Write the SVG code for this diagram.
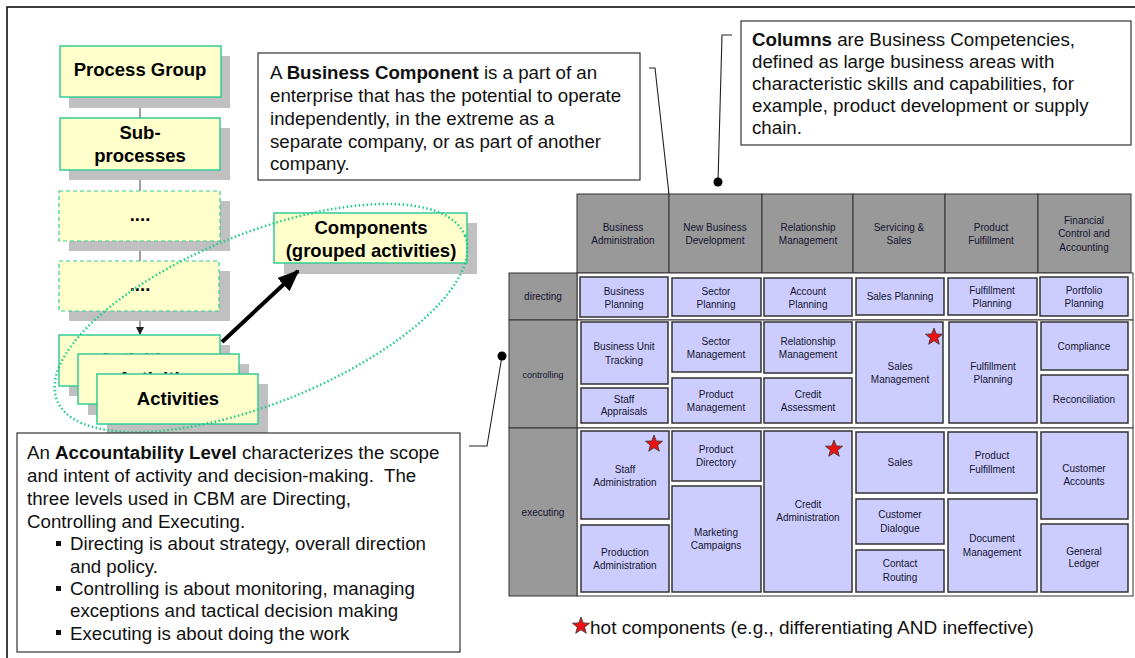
<svg xmlns="http://www.w3.org/2000/svg" xmlns:xlink="http://www.w3.org/1999/xlink" width="1135" height="658" viewBox="0 0 1135 658">
<style>
.sh{fill:#c0c0c0}
.yb{fill:#ffffcc;stroke:#33cc99;stroke-width:1.5}
.yd{fill:#ffffcc;stroke:#33cc99;stroke-width:1.2;stroke-dasharray:4 3}
.bt{font-family:"Liberation Sans",Arial,sans-serif;font-weight:bold;font-size:18.5px;fill:#000;text-anchor:middle}
.ct{font-family:"Liberation Sans",Arial,sans-serif;font-size:18.7px;fill:#111}
.co{fill:#fff;stroke:#333;stroke-width:1.2}
.cell{fill:#ccccff;stroke:#333;stroke-width:1.5}
.ctx{font-family:"Liberation Sans",Arial,sans-serif;font-size:10px;fill:#14142e;text-anchor:middle}
.hdr{fill:#999999;stroke:#333;stroke-width:1}
.band{fill:#fff;stroke:#333;stroke-width:1}
.ld{fill:none;stroke:#222;stroke-width:1.1}
.gl{stroke:#808080;stroke-width:1.5;fill:none}
.star{fill:#ee1111;stroke:#333;stroke-width:0.8}
</style>
<defs>
<polygon id="star" points="0,-9 2.23,-3.07 8.56,-2.78 3.61,1.17 5.29,7.28 0,3.8 -5.29,7.28 -3.61,1.17 -8.56,-2.78 -2.23,-3.07"/>
<marker id="ah" markerWidth="8" markerHeight="8" refX="7" refY="4" orient="auto" markerUnits="userSpaceOnUse">
<path d="M0,0 L8,4 L0,8 z" fill="#222"/>
</marker>
<marker id="ahb" markerWidth="22" markerHeight="18" refX="20" refY="9" orient="auto" markerUnits="userSpaceOnUse">
<path d="M0,0 L22,9 L0,18 z" fill="#000"/>
</marker>
</defs>

<path d="M7,658 V7 H1135" fill="none" stroke="#000" stroke-width="1.5"/>

<!-- left hierarchy -->
<g id="connectors-left">
<line class="gl" x1="140" y1="97" x2="140" y2="118"/>
<line class="gl" x1="140" y1="170" x2="140" y2="191"/>
<line class="gl" x1="140" y1="241" x2="140" y2="261"/>
<line class="gl" x1="140" y1="311" x2="140" y2="334" marker-end="url(#ah)"/>
</g>

<g id="process-group">
<rect class="sh" x="69" y="56" width="161" height="52"/>
<rect class="yb" x="60" y="46" width="161" height="51"/>
<text class="bt" x="140" y="76">Process Group</text>
</g>
<g id="sub-processes">
<rect class="sh" x="69" y="128" width="161" height="52"/>
<rect class="yb" x="60" y="118" width="160" height="52"/>
<text class="bt" x="140" y="139">Sub-</text>
<text class="bt" x="140" y="162">processes</text>
</g>
<g id="dots1">
<rect class="sh" x="69" y="201" width="161" height="50"/>
<rect class="yd" x="59" y="191" width="161" height="50"/>
<text class="bt" x="140" y="221">....</text>
</g>
<g id="dots2">
<rect class="sh" x="69" y="271" width="161" height="50"/>
<rect class="yd" x="59" y="261" width="160" height="50"/>
<text class="bt" x="140" y="291">....</text>
</g>
<g id="activities">
<rect class="sh" x="69" y="345" width="161" height="51"/>
<rect class="yb" x="59" y="335" width="161" height="51"/>
<text class="bt" x="140" y="366">Activities</text>
<rect class="sh" x="88" y="364" width="161" height="51"/>
<rect class="yb" x="78" y="354" width="161" height="50"/>
<text class="bt" x="159" y="385">Activities</text>
<rect class="sh" x="107" y="384" width="161" height="50"/>
<rect class="yb" x="97" y="374" width="161" height="50"/>
<text class="bt" x="178" y="405">Activities</text>
</g>
<g id="components">
<rect class="sh" x="284" y="223" width="193" height="51"/>
<rect class="yb" x="274" y="213" width="193" height="50"/>
<text class="bt" x="371" y="234">Components</text>
<text class="bt" x="371" y="257">(grouped activities)</text>
</g>
<g id="connectors">
<ellipse cx="261" cy="318" rx="220" ry="85" transform="rotate(-22 261 318)" fill="none" stroke="#22cc88" stroke-width="2.5" stroke-dasharray="1.5 2.5"/>
<line x1="222" y1="342" x2="298" y2="271" stroke="#000" stroke-width="4" marker-end="url(#ahb)"/>
<path class="ld" d="M649,68 H655 L690,384"/>
<circle cx="690" cy="384" r="4.5" fill="#000"/>
<path class="ld" d="M732,35 H722 L718,182"/>
<circle cx="718" cy="182" r="4.5" fill="#000"/>
<path class="ld" d="M469,446 H487 L502,356"/>
<circle cx="502" cy="356" r="4.5" fill="#000"/>
</g>

<!-- callouts -->
<g id="callout-business-component">
<rect class="co" x="258" y="53" width="382" height="127"/>
<text class="ct" x="270" y="79">A <tspan font-weight="bold">Business Component</tspan> is a part of an</text>
<text class="ct" x="270" y="102">enterprise that has the potential to operate</text>
<text class="ct" x="270" y="125">independently, in the extreme as a</text>
<text class="ct" x="270" y="148">separate company, or as part of another</text>
<text class="ct" x="270" y="170">company.</text>
</g>
<g id="callout-columns">
<rect class="co" x="741" y="21" width="390" height="124"/>
<text class="ct" x="752" y="46"><tspan font-weight="bold">Columns</tspan> are Business Competencies,</text>
<text class="ct" x="752" y="68">defined as large business areas with</text>
<text class="ct" x="752" y="90">characteristic skills and capabilities, for</text>
<text class="ct" x="752" y="112">example, product development or supply</text>
<text class="ct" x="752" y="134">chain.</text>
</g>
<g id="callout-accountability">
<rect class="co" x="17" y="433" width="443" height="219"/>
<text class="ct" x="27" y="459">An <tspan font-weight="bold">Accountability Level</tspan> characterizes the scope</text>
<text class="ct" x="27" y="482">and intent of activity and decision-making.&#160; The</text>
<text class="ct" x="27" y="505">three levels used in CBM are Directing,</text>
<text class="ct" x="27" y="528">Controlling and Executing.</text>
<rect x="56" y="541" width="5" height="5" fill="#111"/>
<text class="ct" x="70" y="550">Directing is about strategy, overall direction</text>
<text class="ct" x="70" y="573">and policy.</text>
<rect x="56" y="586" width="5" height="5" fill="#111"/>
<text class="ct" x="70" y="595">Controlling is about monitoring, managing</text>
<text class="ct" x="70" y="617">exceptions and tactical decision making</text>
<rect x="56" y="630" width="5" height="5" fill="#111"/>
<text class="ct" x="70" y="640">Executing is about doing the work</text>
</g>

<!-- matrix -->
<g id="matrix-header">
<rect class="hdr" x="577" y="194" width="92" height="79"/>
<rect class="hdr" x="669" y="194" width="93" height="79"/>
<rect class="hdr" x="762" y="194" width="91" height="79"/>
<rect class="hdr" x="853" y="194" width="92" height="79"/>
<rect class="hdr" x="945" y="194" width="93" height="79"/>
<rect class="hdr" x="1038" y="194" width="93" height="79"/>
<text class="ctx" x="623" y="231">Business</text><text class="ctx" x="623" y="244">Administration</text>
<text class="ctx" x="715" y="231">New Business</text><text class="ctx" x="715" y="244">Development</text>
<text class="ctx" x="808" y="231">Relationship</text><text class="ctx" x="808" y="244">Management</text>
<text class="ctx" x="899" y="231">Servicing &amp;</text><text class="ctx" x="899" y="244">Sales</text>
<text class="ctx" x="991" y="231">Product</text><text class="ctx" x="991" y="244">Fulfillment</text>
<text class="ctx" x="1084" y="224">Financial</text><text class="ctx" x="1084" y="237">Control and</text><text class="ctx" x="1084" y="251">Accounting</text>
</g>
<g id="matrix-rows">
<rect class="band" x="577" y="273" width="556" height="47"/>
<rect class="band" x="577" y="320" width="556" height="108"/>
<rect class="band" x="577" y="428" width="556" height="168"/>
<rect class="hdr" x="509" y="273" width="68" height="47"/>
<rect class="hdr" x="509" y="320" width="68" height="108"/>
<rect class="hdr" x="509" y="428" width="68" height="168"/>
<text class="ctx" x="543" y="300">directing</text>
<text class="ctx" x="543" y="378" style="font-size:9px">controlling</text>
<text class="ctx" x="543" y="516">executing</text>
</g>

<g id="cell-business-planning"><rect class="cell" x="580" y="277" width="88" height="40"/><text class="ctx" x="624" y="295">Business</text><text class="ctx" x="624" y="308">Planning</text></g>
<g id="cell-sector-planning"><rect class="cell" x="672" y="278" width="89" height="38"/><text class="ctx" x="716" y="295">Sector</text><text class="ctx" x="716" y="308">Planning</text></g>
<g id="cell-account-planning"><rect class="cell" x="764" y="278" width="88" height="38"/><text class="ctx" x="808" y="295">Account</text><text class="ctx" x="808" y="308">Planning</text></g>
<g id="cell-sales-planning"><rect class="cell" x="856" y="278" width="88" height="37"/><text class="ctx" x="900" y="300">Sales Planning</text></g>
<g id="cell-fulfillment-planning-d"><rect class="cell" x="948" y="278" width="89" height="37"/><text class="ctx" x="992" y="294">Fulfillment</text><text class="ctx" x="992" y="307">Planning</text></g>
<g id="cell-portfolio-planning"><rect class="cell" x="1040" y="277" width="88" height="39"/><text class="ctx" x="1084" y="294">Portfolio</text><text class="ctx" x="1084" y="307">Planning</text></g>

<g id="cell-business-unit-tracking"><rect class="cell" x="581" y="322" width="87" height="62"/><text class="ctx" x="624" y="350">Business Unit</text><text class="ctx" x="624" y="364">Tracking</text></g>
<g id="cell-staff-appraisals"><rect class="cell" x="581" y="388" width="87" height="35"/><text class="ctx" x="624" y="403">Staff</text><text class="ctx" x="624" y="415">Appraisals</text></g>
<g id="cell-sector-management"><rect class="cell" x="672" y="322" width="89" height="50"/><text class="ctx" x="716" y="345">Sector</text><text class="ctx" x="716" y="358">Management</text></g>
<g id="cell-product-management"><rect class="cell" x="672" y="378" width="89" height="45"/><text class="ctx" x="716" y="398">Product</text><text class="ctx" x="716" y="411">Management</text></g>
<g id="cell-relationship-management"><rect class="cell" x="764" y="322" width="88" height="51"/><text class="ctx" x="808" y="345">Relationship</text><text class="ctx" x="808" y="358">Management</text></g>
<g id="cell-credit-assessment"><rect class="cell" x="764" y="378" width="88" height="45"/><text class="ctx" x="808" y="398">Credit</text><text class="ctx" x="808" y="411">Assessment</text></g>
<g id="cell-sales-management"><rect class="cell" x="856" y="322" width="87" height="101"/><text class="ctx" x="900" y="370">Sales</text><text class="ctx" x="900" y="383">Management</text><use xlink:href="#star" href="#star" class="star" x="934" y="337"/></g>
<g id="cell-fulfillment-planning-c"><rect class="cell" x="949" y="322" width="88" height="101"/><text class="ctx" x="993" y="370">Fulfillment</text><text class="ctx" x="993" y="383">Planning</text></g>
<g id="cell-compliance"><rect class="cell" x="1041" y="322" width="87" height="48"/><text class="ctx" x="1084" y="350">Compliance</text></g>
<g id="cell-reconciliation"><rect class="cell" x="1041" y="375" width="87" height="48"/><text class="ctx" x="1084" y="403">Reconciliation</text></g>

<g id="cell-staff-administration"><rect class="cell" x="581" y="431" width="88" height="88"/><text class="ctx" x="625" y="473">Staff</text><text class="ctx" x="625" y="486">Administration</text><use xlink:href="#star" href="#star" class="star" x="654" y="444"/></g>
<g id="cell-production-administration"><rect class="cell" x="581" y="525" width="88" height="67"/><text class="ctx" x="625" y="556">Production</text><text class="ctx" x="625" y="569">Administration</text></g>
<g id="cell-product-directory"><rect class="cell" x="672" y="431" width="89" height="50"/><text class="ctx" x="716" y="453">Product</text><text class="ctx" x="716" y="466">Directory</text></g>
<g id="cell-marketing-campaigns"><rect class="cell" x="672" y="486" width="89" height="106"/><text class="ctx" x="716" y="536">Marketing</text><text class="ctx" x="716" y="549">Campaigns</text></g>
<g id="cell-credit-administration"><rect class="cell" x="764" y="431" width="88" height="161"/><text class="ctx" x="808" y="508">Credit</text><text class="ctx" x="808" y="521">Administration</text><use xlink:href="#star" href="#star" class="star" x="834" y="449"/></g>
<g id="cell-sales"><rect class="cell" x="856" y="432" width="88" height="61"/><text class="ctx" x="900" y="466">Sales</text></g>
<g id="cell-customer-dialogue"><rect class="cell" x="856" y="499" width="88" height="45"/><text class="ctx" x="900" y="518">Customer</text><text class="ctx" x="900" y="532">Dialogue</text></g>
<g id="cell-contact-routing"><rect class="cell" x="856" y="550" width="88" height="42"/><text class="ctx" x="900" y="567">Contact</text><text class="ctx" x="900" y="581">Routing</text></g>
<g id="cell-product-fulfillment"><rect class="cell" x="948" y="432" width="89" height="61"/><text class="ctx" x="992" y="459">Product</text><text class="ctx" x="992" y="473">Fulfillment</text></g>
<g id="cell-document-management"><rect class="cell" x="948" y="499" width="89" height="93"/><text class="ctx" x="992" y="542">Document</text><text class="ctx" x="992" y="556">Management</text></g>
<g id="cell-customer-accounts"><rect class="cell" x="1041" y="432" width="87" height="87"/><text class="ctx" x="1084" y="472">Customer</text><text class="ctx" x="1084" y="485">Accounts</text></g>
<g id="cell-general-ledger"><rect class="cell" x="1041" y="524" width="87" height="68"/><text class="ctx" x="1084" y="555">General</text><text class="ctx" x="1084" y="567">Ledger</text></g>

<g id="legend">
<use xlink:href="#star" href="#star" class="star" x="581" y="626"/>
<text class="ct" x="590" y="634" style="font-size:19px">hot components (e.g., differentiating AND ineffective)</text>
</g>
</svg>
